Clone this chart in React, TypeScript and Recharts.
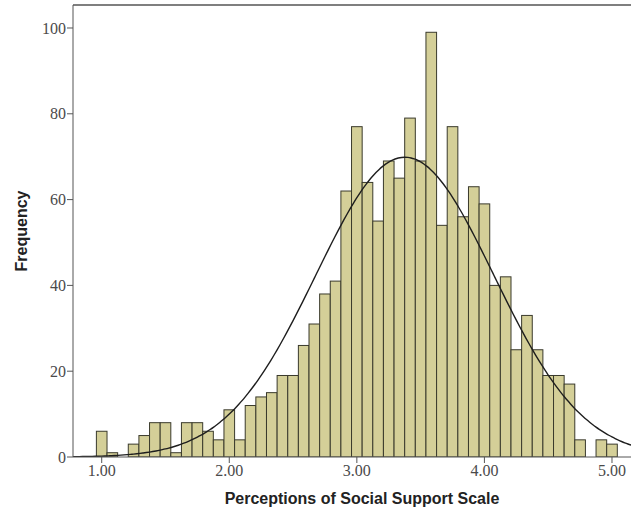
import React from 'react';
import {
  ComposedChart,
  Bar,
  Line,
  XAxis,
  YAxis,
  ReferenceLine,
  Label
} from 'recharts';

// histogram bins: each bar is 1/12 of a scale point wide, centred on 1.00 .. 5.00
const binCenters: number[] = Array.from({ length: 49 }, (_, i) => 1 + i / 12);
const frequencies: number[] = [
  6, 1, 0, 3, 5, 8, 8, 1, 8, 8, 6, 4, 11, 4, 12, 14, 15, 19, 19, 26,
  31, 38, 41, 62, 77, 64, 55, 69, 65, 79, 69, 99, 54, 77, 56, 63, 59, 40, 42, 25,
  33, 25, 19, 19, 17, 4, 0, 4, 3
];
const xTicks: number[] = [1, 2, 3, 4, 5];
const yTicks: number[] = [0, 20, 40, 60, 80, 100];

// summary statistics used for the fitted normal curve
const N = 1467;
const MEAN = 3.376;
const SD = 0.698;
const BIN_WIDTH = 1 / 12;

const X_MIN = 0.775;
const X_MAX = 5.149;
const Y_MAX = 105.36;

const barData = binCenters.map((x, i) => ({ x, count: frequencies[i] }));

const normalCurve = Array.from({ length: 176 }, (_, i) => {
  const x = X_MIN + i * 0.025;
  const z = (x - MEAN) / SD;
  return {
    x,
    fit: (N * BIN_WIDTH * Math.exp(-0.5 * z * z)) / (SD * Math.sqrt(2 * Math.PI))
  };
});

const axisColor = '#555555';
const tickStyle = { fill: '#4a4a4a', fontSize: 16, fontFamily: '"Liberation Serif", serif' };
const titleStyle = { fill: '#222222', fontSize: 16, fontWeight: 700, fontFamily: '"Liberation Sans", Arial, sans-serif' };

// pixel width of one bin on the x scale (plot spans 558px for X_MAX - X_MIN)
const BAR_PX = (558 * BIN_WIDTH) / (X_MAX - X_MIN);

// draws a histogram column centred on the bin value, full bin width
const HistBar = (props: any) => {
  const { x, y, width, height } = props;
  if (!height || height <= 0) return null;
  const cx = x + width / 2;
  return (
    <rect
      x={cx - BAR_PX / 2}
      y={y}
      width={BAR_PX}
      height={height}
      fill="#D4CF98"
      stroke="#3a3a2c"
      strokeWidth={1}
    />
  );
};

export default function App() {
  return (
    <div style={{ position: 'absolute', left: 0, top: 0, background: '#fff' }}>
      <ComposedChart
        width={631}
        height={514}
        data={barData}
        margin={{ top: 5, right: 0, bottom: 0, left: 0 }}
      >
        <XAxis
          dataKey="x"
          type="number"
          domain={[X_MIN, X_MAX]}
          allowDataOverflow
          ticks={xTicks}
          tickFormatter={(v: number) => v.toFixed(2)}
          tick={tickStyle}
          tickSize={6}
          tickMargin={2}
          height={57}
          stroke={axisColor}
        >
          <Label value="Perceptions of Social Support Scale" position="insideBottom" offset={10} dx={10} style={titleStyle} />
        </XAxis>
        <YAxis
          type="number"
          domain={[0, Y_MAX]}
          allowDataOverflow
          ticks={yTicks}
          tick={tickStyle}
          tickSize={6}
          tickMargin={1}
          width={73}
          stroke={axisColor}
        >
          <Label value="Frequency" angle={-90} position="insideLeft" offset={21} style={{ ...titleStyle, textAnchor: 'middle' }} />
        </YAxis>
        <ReferenceLine y={Y_MAX} stroke={axisColor} strokeWidth={1.5} />
        <Bar
          dataKey="count"
          shape={HistBar}
          isAnimationActive={false}
        />
        <Line
          data={normalCurve}
          dataKey="fit"
          type="monotone"
          stroke="#1e1e1e"
          strokeWidth={1.4}
          dot={false}
          activeDot={false}
          isAnimationActive={false}
        />
      </ComposedChart>
    </div>
  );
}
